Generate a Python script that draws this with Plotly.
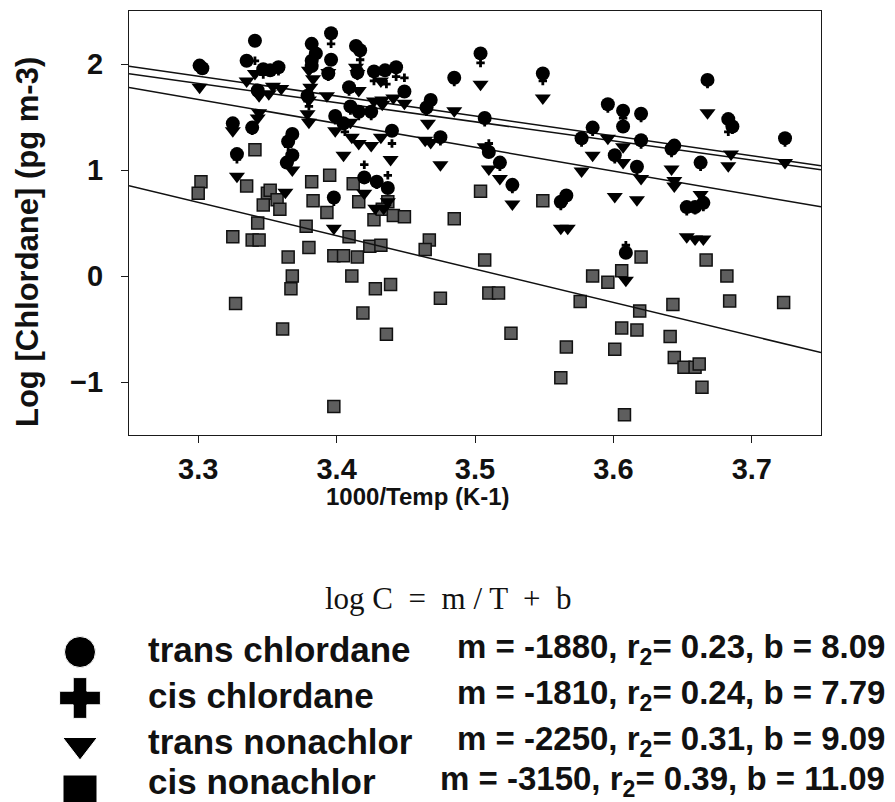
import plotly.graph_objects as go

W, H = 895, 802

# Regression summary: log C = m / T + b  (x axis is 1000/T, so slope per unit x is m/1000)
compounds = ["trans chlordane", "cis chlordane", "trans nonachlor", "cis nonachlor"]
slope_m = [-1880, -1810, -2250, -3150]
r2_vals = [0.23, 0.24, 0.31, 0.39]
intercept_b = [8.09, 7.79, 9.09, 11.09]

x_ticks = [3.3, 3.4, 3.5, 3.6, 3.7]
y_ticks = [-1, 0, 1, 2]
x_range = [3.25, 3.75]
y_range = [-1.5, 2.5]

# trans chlordane (circles)
tc_x = [3.301, 3.303, 3.335, 3.341, 3.347, 3.352, 3.358, 3.343, 3.325, 3.339,
        3.328, 3.368, 3.365, 3.368, 3.364, 3.379, 3.382, 3.385, 3.382, 3.382,
        3.396, 3.396, 3.394, 3.399, 3.405, 3.398, 3.409, 3.410, 3.416, 3.425,
        3.414, 3.417, 3.415, 3.427, 3.435, 3.443, 3.449, 3.440, 3.420, 3.429,
        3.437, 3.465, 3.468, 3.475, 3.485, 3.504, 3.507, 3.510, 3.518, 3.527,
        3.549, 3.562, 3.566, 3.577, 3.585, 3.596, 3.601, 3.607, 3.607, 3.609,
        3.617, 3.620, 3.620, 3.642, 3.644, 3.653, 3.659, 3.665, 3.663, 3.668,
        3.683, 3.686, 3.724]
tc_y = [1.985, 1.96, 2.03, 2.22, 1.95, 1.94, 1.97, 1.75, 1.44, 1.40,
        1.15, 1.34, 1.27, 1.14, 1.07, 1.70, 2.19, 2.10, 2.03, 1.98,
        2.29, 2.04, 1.91, 1.51, 1.44, 0.74, 1.78, 1.60, 1.55, 1.55,
        2.17, 2.13, 1.92, 1.93, 1.94, 1.97, 1.74, 1.37, 0.93, 0.89,
        0.83, 1.59, 1.66, 1.31, 1.87, 2.10, 1.49, 1.17, 1.07, 0.86,
        1.91, 0.70, 0.76, 1.30, 1.40, 1.62, 1.14, 1.56, 1.41, 0.22,
        1.03, 1.53, 1.28, 1.20, 1.23, 0.65, 0.65, 0.69, 1.07, 1.85,
        1.48, 1.41, 1.30]

# cis chlordane (crosses)
cc_x = [3.341, 3.396, 3.417, 3.427, 3.436, 3.443, 3.449, 3.504, 3.406, 3.440,
        3.420, 3.437, 3.510, 3.380, 3.549, 3.607, 3.683, 3.609, 3.668, 3.301,
        3.358, 3.347, 3.382, 3.394, 3.415, 3.325, 3.339, 3.328, 3.368, 3.365,
        3.368, 3.379, 3.409, 3.410, 3.416, 3.425, 3.399, 3.398, 3.429, 3.465,
        3.468, 3.475, 3.485, 3.507, 3.518, 3.527, 3.562, 3.566, 3.577, 3.585,
        3.596, 3.601, 3.607, 3.617, 3.620, 3.620, 3.642, 3.644, 3.653, 3.659,
        3.665, 3.663, 3.686, 3.724]
cc_y = [2.03, 2.19, 2.04, 1.84, 1.81, 1.88, 1.87, 2.01, 1.36, 1.25,
        1.05, 0.95, 1.25, 1.60, 1.84, 1.49, 1.36, 0.29, 1.81, 1.95,
        1.93, 1.90, 2.00, 1.88, 1.89, 1.40, 1.37, 1.10, 1.30, 1.22,
        1.10, 1.65, 1.74, 1.56, 1.51, 1.51, 1.47, 0.70, 0.86, 1.55,
        1.62, 1.27, 1.83, 1.45, 1.03, 0.82, 0.66, 0.72, 1.26, 1.36,
        1.58, 1.10, 1.52, 0.99, 1.49, 1.24, 1.16, 1.19, 0.61, 0.62,
        0.65, 1.03, 1.38, 1.26]

# trans nonachlor (down triangles)
tn_x = [3.301, 3.335, 3.341, 3.344, 3.351, 3.354, 3.360, 3.344, 3.343, 3.325,
        3.328, 3.368, 3.363, 3.380, 3.383, 3.381, 3.380, 3.379, 3.380, 3.393,
        3.394, 3.399, 3.398, 3.405, 3.410, 3.411, 3.414, 3.415, 3.416, 3.416,
        3.420, 3.425, 3.427, 3.428, 3.432, 3.432, 3.433, 3.433, 3.434, 3.437,
        3.439, 3.441, 3.449, 3.464, 3.466, 3.468, 3.475, 3.485, 3.504, 3.507,
        3.510, 3.518, 3.527, 3.549, 3.562, 3.567, 3.577, 3.585, 3.596, 3.601,
        3.607, 3.607, 3.609, 3.617, 3.620, 3.642, 3.644, 3.644, 3.653, 3.659,
        3.665, 3.663, 3.668, 3.683, 3.685, 3.724]
tn_y = [1.78, 1.84, 1.91, 1.70, 1.72, 1.79, 1.77, 1.54, 1.49, 1.37,
        0.94, 1.00, 0.79, 1.94, 1.86, 1.78, 1.66, 1.53, 1.45, 1.70,
        1.92, 1.37, 0.45, 1.14, 1.45, 1.31, 1.97, 1.91, 1.75, 1.25,
        0.78, 1.23, 1.65, 0.64, 1.84, 1.31, 1.66, 1.62, 0.64, 0.70,
        1.10, 1.68, 1.63, 1.28, 1.44, 1.26, 1.05, 1.56, 1.81, 1.22,
        1.01, 0.92, 0.68, 1.68, 0.45, 0.45, 0.99, 1.14, 1.30, 0.75,
        1.22, 1.07, -0.04, 0.72, 0.92, 1.01, 0.90, 0.85, 0.37, 0.35,
        0.35, 0.77, 1.54, 1.04, 1.15, 1.07]

# cis nonachlor (squares)
cn_x = [3.341, 3.302, 3.300, 3.335, 3.350, 3.352, 3.357, 3.359, 3.347, 3.343,
        3.325, 3.339, 3.344, 3.382, 3.383, 3.395, 3.393, 3.378, 3.380, 3.412,
        3.416, 3.409, 3.427, 3.437, 3.433, 3.441, 3.449, 3.485, 3.504, 3.467,
        3.424, 3.432, 3.365, 3.398, 3.405, 3.415, 3.464, 3.507, 3.368, 3.367,
        3.411, 3.428, 3.439, 3.327, 3.419, 3.475, 3.510, 3.517, 3.361, 3.436,
        3.526, 3.398, 3.549, 3.620, 3.585, 3.596, 3.606, 3.667, 3.682, 3.576,
        3.619, 3.643, 3.684, 3.723, 3.606, 3.617, 3.641, 3.566, 3.601, 3.644,
        3.651, 3.659, 3.662, 3.562, 3.664, 3.608]
cn_y = [1.19, 0.89, 0.78, 0.85, 0.78, 0.81, 0.72, 0.63, 0.67, 0.50,
        0.37, 0.34, 0.34, 0.89, 0.71, 0.95, 0.60, 0.47, 0.27, 0.87,
        0.70, 0.37, 0.53, 0.70, 0.63, 0.57, 0.56, 0.54, 0.80, 0.34,
        0.28, 0.29, 0.18, 0.19, 0.19, 0.18, 0.25, 0.15, 0.00, -0.12,
        0.00, -0.12, -0.08, -0.26, -0.35, -0.21, -0.16, -0.16, -0.50, -0.55,
        -0.54, -1.23, 0.71, 0.18, 0.00, -0.06, 0.05, 0.15, 0.00, -0.24,
        -0.33, -0.27, -0.235, -0.25, -0.49, -0.51, -0.57, -0.67, -0.69, -0.77,
        -0.86, -0.86, -0.83, -0.96, -1.05, -1.31]

BOLD = "Liberation Sans"
SERIF = "Liberation Serif"

fig = go.Figure()

fig.add_trace(go.Scatter(
    x=cn_x, y=cn_y, mode="markers",
    marker=dict(symbol="square", size=12, color="#5e5e5e", opacity=1,
                line=dict(color="#111", width=1.5)),
    showlegend=False))

# fitted lines, one per compound, across the full x range
for m, b in zip(slope_m, intercept_b):
    fig.add_trace(go.Scatter(
        x=x_range, y=[m / 1000 * x_range[0] + b, m / 1000 * x_range[1] + b],
        mode="lines", line=dict(color="#111", width=1.5), showlegend=False))

fig.add_trace(go.Scatter(
    x=tn_x, y=tn_y, mode="markers",
    marker=dict(symbol="triangle-down", size=14, color="#000", opacity=1),
    showlegend=False))
fig.add_trace(go.Scatter(
    x=tc_x, y=tc_y, mode="markers",
    marker=dict(symbol="circle", size=14, color="#000", opacity=1),
    showlegend=False))
fig.add_trace(go.Scatter(
    x=cc_x, y=cc_y, mode="markers",
    marker=dict(symbol="cross", size=7, color="#000", opacity=1),
    showlegend=False))

# large key symbols below the chart, on a pixel-space overlay
key_symbols = ["circle", "cross", "triangle-down", "square"]
key_sizes = [31, 34, 30, 34]
key_rows_y = [652, 698, 745, 792]
text_rows_y = [649, 695, 741, 781]
fig.add_trace(go.Scatter(
    x=[80] * 4, y=key_rows_y, mode="markers", xaxis="x2", yaxis="y2",
    marker=dict(symbol=key_symbols, size=key_sizes, color="#000", opacity=1),
    showlegend=False, hoverinfo="skip"))

axis_line = dict(showline=True, linecolor="#1a1a1a", linewidth=1.3, mirror=True,
                 showgrid=False, zeroline=False, ticks="outside", ticklen=7,
                 tickcolor="#1a1a1a",
                 tickfont=dict(family=BOLD, size=29, color="#111", weight="bold"))

fig.update_layout(
    width=W, height=H,
    margin=dict(l=0, r=0, t=0, b=0),
    paper_bgcolor="white", plot_bgcolor="rgba(0,0,0,0)",
    xaxis=dict(domain=[129 / W, 821 / W], range=x_range, tickvals=x_ticks,
               ticktext=[f"{v:.1f}" for v in x_ticks], ticklabelstandoff=1,
               anchor="y", **axis_line),
    yaxis=dict(domain=[1 - 435 / H, 1 - 11 / H], range=y_range, tickvals=y_ticks,
               ticklabelstandoff=12, anchor="x", **axis_line),
    xaxis2=dict(domain=[0, 1], range=[0, W], visible=False, anchor="y2"),
    yaxis2=dict(domain=[0, 1], range=[H, 0], visible=False, anchor="x2"),
)

ann = []
ann.append(dict(x=27, y=242, xref="x2", yref="y2", text="<b>Log [Chlordane] (pg m-3)</b>",
                textangle=-90, showarrow=False,
                font=dict(family=BOLD, size=31, color="#111")))
ann.append(dict(x=418, y=496, xref="x2", yref="y2", text="<b>1000/Temp (K-1)</b>",
                showarrow=False, font=dict(family=BOLD, size=24, color="#111")))
ann.append(dict(x=448, y=598, xref="x2", yref="y2", text="log C  =  m / T  +  b",
                showarrow=False, font=dict(family=SERIF, size=31, color="#111")))

for name, m, r2, b, yy in zip(compounds, slope_m, r2_vals, intercept_b, text_rows_y):
    ann.append(dict(x=147, y=yy, xref="x2", yref="y2", xanchor="left",
                    text=f"<b>{name}</b>", showarrow=False, borderpad=0,
                    font=dict(family=BOLD, size=35, color="#111")))
    ann.append(dict(x=886, y=yy, xref="x2", yref="y2", xanchor="right",
                    text=f"<b>m = {m}, r<sub>2</sub>= {r2:.2f}, b = {b:.2f}</b>",
                    showarrow=False, borderpad=0,
                    font=dict(family=BOLD, size=33, color="#111")))
fig.update_layout(annotations=ann)

fig.write_html("out.html")
